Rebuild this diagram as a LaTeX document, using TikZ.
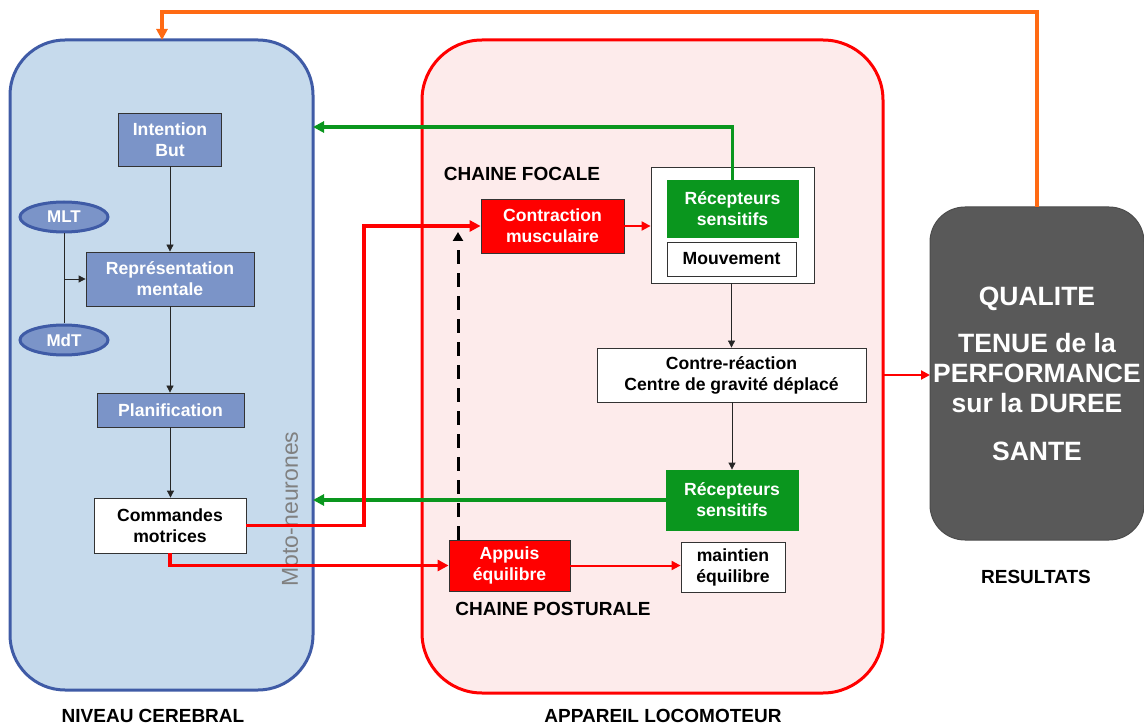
\documentclass[tikz,border=0pt]{standalone}
\usepackage{fontspec}
\setmainfont{Liberation Sans}
\usetikzlibrary{arrows.meta,shapes.geometric,calc}
\definecolor{panelblue}{HTML}{C6DAEC}
\definecolor{panelbluedraw}{HTML}{3F5BA6}
\definecolor{nodeblue}{HTML}{7B94C8}
\definecolor{panelpink}{HTML}{FDEBEB}
\definecolor{myred}{HTML}{FF0000}
\definecolor{mygreen}{HTML}{0A961E}
\definecolor{myorange}{HTML}{FF6A13}
\definecolor{darkbox}{HTML}{595959}
\tikzset{
  nodefont/.style={font=\bfseries\fontsize{17.6}{21}\selectfont},
  boxbase/.style={rectangle, draw=black!80, line width=0.8pt, align=center, inner sep=0pt, nodefont},
  bluebox/.style={boxbase, fill=nodeblue, text=white},
  whitebox/.style={boxbase, fill=white, text=black},
  redbox/.style={boxbase, fill=myred, text=white},
  greenbox/.style={boxbase, draw=mygreen, fill=mygreen, text=white},
  memo/.style={ellipse, draw=panelbluedraw, line width=3pt, fill=nodeblue, text=white, inner sep=0pt, minimum width=88pt, minimum height=30pt, font=\bfseries\fontsize{17}{18}\selectfont},
  labeltxt/.style={font=\bfseries\fontsize{19}{21}\selectfont, text=black},
  thinarrow/.style={draw=black!85, line width=0.8pt, -{Triangle[length=7pt,width=7pt]}},
  redarrow/.style={draw=myred, line width=3.5pt, -{Triangle[length=11pt,width=11pt]}},
  redthin/.style={draw=myred, line width=2pt, -{Triangle[length=9pt,width=9pt]}},
  greenarrow/.style={draw=mygreen, line width=3.5pt, -{Triangle[length=11pt,width=11pt]}},
  orangearrow/.style={draw=myorange, line width=3.5pt, -{Triangle[length=11pt,width=11pt]}},
}
\begin{document}
\begin{tikzpicture}[x=1pt,y=-1pt]
\useasboundingbox (0,0) rectangle (1144,727);

% panels
\node[draw=panelbluedraw, fill=panelblue, line width=3pt, rounded corners=55pt, minimum width=303pt, minimum height=650pt, inner sep=0pt, outer sep=0pt] (brain) at (161.5,365) {};
\node[draw=myred, fill=panelpink, line width=3pt, rounded corners=60pt, minimum width=461pt, minimum height=653pt, inner sep=0pt, outer sep=0pt] (loco) at (652.5,366.5) {};
\node[draw=black!70, fill=darkbox, line width=1pt, rounded corners=35pt, minimum width=214pt, minimum height=333pt, inner sep=0pt, outer sep=0pt] (res) at (1037,373.5) {};
\node[align=center, text=white, font=\bfseries\fontsize{26.5}{30}\selectfont] (restxt) at (1037,373.5) {QUALITE\\[17pt]TENUE de la\\PERFORMANCE\\sur la DUREE\\[18pt]SANTE};

% left nodes
\node[bluebox, minimum width=103pt, minimum height=53pt] (intent) at (170,139.5) {Intention\\But};
\node[bluebox, minimum width=168pt, minimum height=54pt] (rep) at (170,279) {Représentation\\mentale};
\node[bluebox, minimum width=147pt, minimum height=34pt] (plan) at (170.5,410) {Planification};
\node[whitebox, minimum width=152pt, minimum height=55pt] (cmd) at (170,525.5) {Commandes\\motrices};
\node[memo] (mlt) at (64,217) {MLT};
\node[memo] (mdt) at (64,340) {MdT};
\node[rotate=90, text=black!50, font=\fontsize{23}{25}\selectfont] (moto) at (290,509) {Moto-neurones};

% centre nodes
\node[labeltxt] (focal) at (522,174) {CHAINE FOCALE};
\node[redbox, minimum width=143pt, minimum height=54pt] (contr) at (552.5,226) {Contraction\\musculaire};
\node[draw=black!80, fill=white, line width=0.8pt, minimum width=163pt, minimum height=116pt, inner sep=0pt] (outer) at (732.5,225) {};
\node[greenbox, minimum width=131pt, minimum height=57pt] (rec1) at (732.5,208.5) {Récepteurs\\sensitifs};
\node[whitebox, minimum width=129pt, minimum height=34pt] (mouv) at (731.5,259) {Mouvement};
\node[whitebox, minimum width=269pt, minimum height=54pt] (cr) at (731.5,375) {Contre-réaction\\Centre de gravité déplacé};
\node[greenbox, minimum width=132pt, minimum height=60pt] (rec2) at (732,500) {Récepteurs\\sensitifs};
\node[redbox, minimum width=121pt, minimum height=51pt] (appuis) at (509.5,565.5) {Appuis\\équilibre};
\node[whitebox, minimum width=104pt, minimum height=50pt] (maint) at (733,567) {maintien\\équilibre};
\node[labeltxt] (postural) at (553,609) {CHAINE POSTURALE};

% bottom labels
\node[labeltxt] (lbrain) at (153,716) {NIVEAU CEREBRAL};
\node[labeltxt] (lloco) at (663,716) {APPAREIL LOCOMOTEUR};
\node[labeltxt] (lres) at (1036,577) {RESULTATS};

% thin black arrows
\draw[thinarrow] (intent.south) -- (rep.north);
\draw[thinarrow] (rep.south) -- (rep.south |- plan.north);
\draw[thinarrow] (plan.south) -- (plan.south |- cmd.north);
\draw[draw=black!85, line width=0.8pt] (mlt.south) -- (mdt.north);
\draw[thinarrow] (mlt.south |- rep.west) -- (rep.west);
\draw[thinarrow] (outer.south -| mouv.south) -- (mouv.south |- cr.north);
\draw[thinarrow] (cr.south -| rec2.north) -- (rec2.north);

% coordinates for free ends
\coordinate (otop) at (162,12);
\coordinate (gtop) at (0,127);
\coordinate (rcol) at (364,0);
\coordinate (dtop) at (458,232);

% orange feedback
\draw[orangearrow] (res.north) |- (otop) -- (otop |- brain.north);

% green arrows
\draw[greenarrow] (rec1.north) |- (brain.east |- gtop);
\draw[greenarrow] (rec2.west) -- (rec2.west -| brain.east);

% red arrows
\draw[redarrow] (cmd.east) -| (rcol |- contr.west) -- (contr.west);
\draw[redarrow] (cmd.south) |- (appuis.west);
\draw[redthin] (contr.east) -- (contr.east -| outer.west);
\draw[redthin] (appuis.east) -- (appuis.east -| maint.west);
\draw[redthin] (loco.east |- cr.east) -- (res.west |- cr.east);

% dashed
\draw[draw=black, line width=3pt, dash pattern=on 14pt off 9pt, -{Triangle[length=9pt,width=10pt]}] (appuis.north -| dtop) -- (dtop);
\end{tikzpicture}
\end{document}
